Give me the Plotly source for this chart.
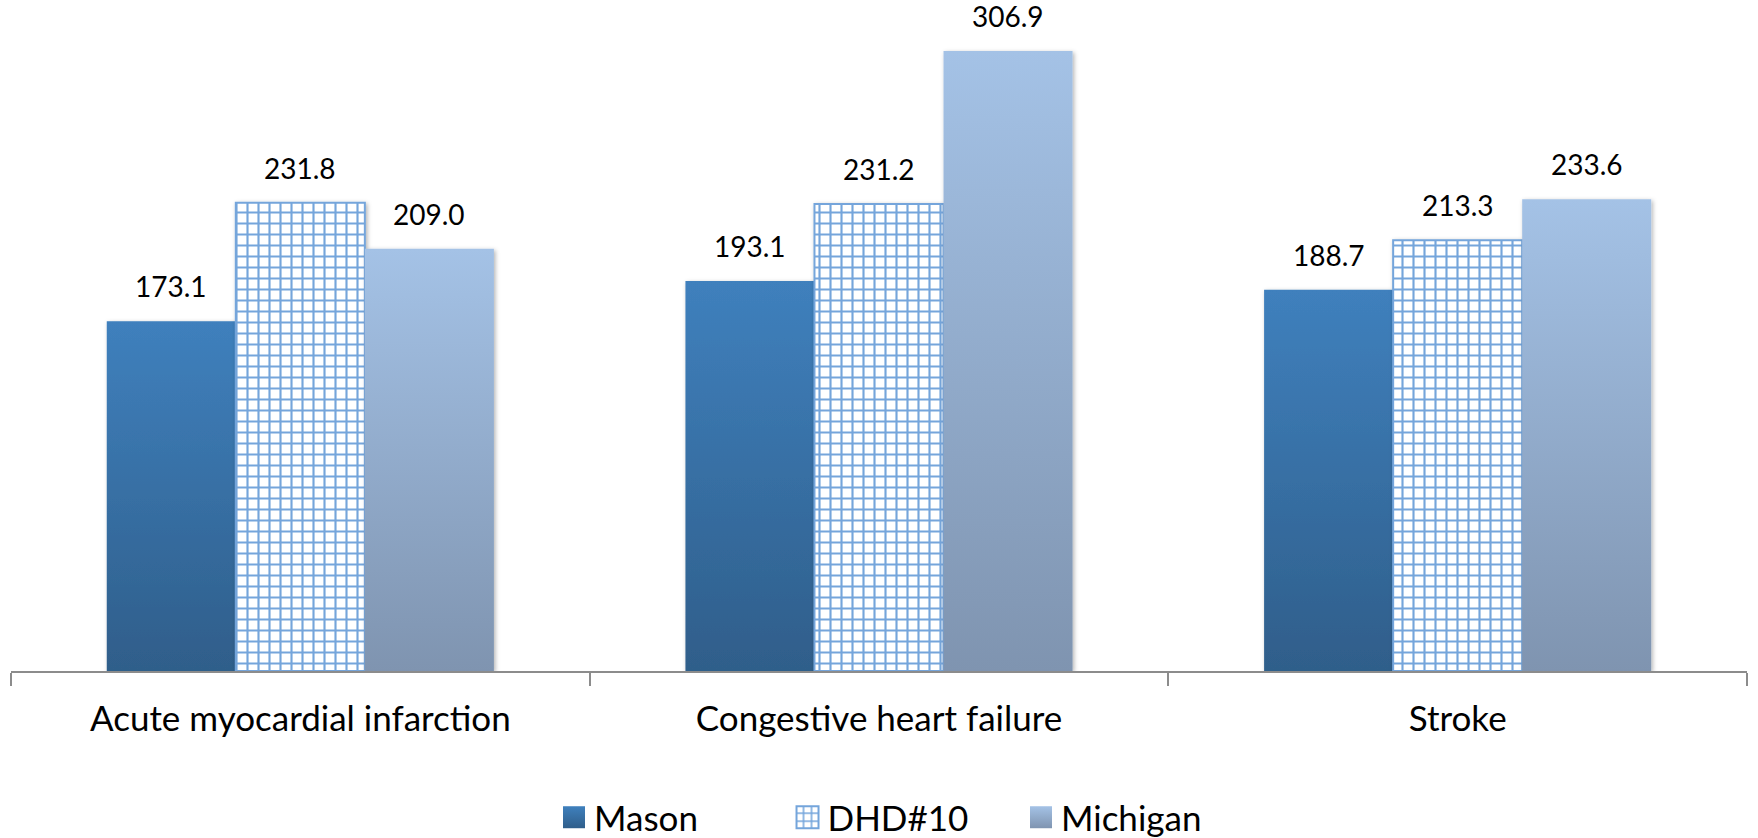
import plotly.graph_objects as go

categories = ["Acute myocardial infarction", "Congestive heart failure", "Stroke"]
series_names = ["Mason", "DHD#10", "Michigan"]
mason = [173.1, 193.1, 188.7]
dhd10 = [231.8, 231.2, 213.3]
michigan = [209.0, 306.9, 233.6]

FONT = "Lato"
BARGAP = 0.331
AXIS_COLOR = "#8c8c8c"

fig = go.Figure()
fig.add_trace(go.Bar(name=series_names[0], x=categories, y=mason,
                     marker=dict(color="#3a77b1", line=dict(width=0))))
fig.add_trace(go.Bar(name=series_names[1], x=categories, y=dhd10,
                     marker=dict(color="white", line=dict(color="#74a5db", width=2),
                                 pattern=dict(shape="+", fgcolor="#74a5db", bgcolor="white",
                                              size=11, solidity=0.35, fillmode="replace"))))
fig.add_trace(go.Bar(name=series_names[2], x=categories, y=michigan,
                     marker=dict(color="#93acc9", line=dict(width=0))))

# data labels above each bar
bw = (1 - BARGAP) / 3
annotations = []
for j, vals in enumerate([mason, dhd10, michigan]):
    for i, v in enumerate(vals):
        annotations.append(dict(x=i + (j - 1) * bw, y=v, xref="x", yref="y",
                                text=f"{v:.1f}", showarrow=False, yanchor="bottom",
                                yshift=16, font=dict(family=FONT, size=28, color="black")))

fig.update_layout(
    width=1758, height=838,
    margin=dict(l=11, r=11, t=20, b=167, autoexpand=False),
    paper_bgcolor="white", plot_bgcolor="white",
    barmode="group", bargap=BARGAP, bargroupgap=0,
    font=dict(family=FONT, size=35, color="black"),
    annotations=annotations,
    showlegend=True,
    legend=dict(orientation="h", x=0.3128, xanchor="left", y=-0.225, yanchor="middle",
                font=dict(family=FONT, size=35, color="black"), itemwidth=30,
                entrywidth=188.5, entrywidthmode="pixels", borderwidth=0),
    xaxis=dict(showline=True, linecolor=AXIS_COLOR, linewidth=1.5, ticks="outside",
               tickson="boundaries", ticklen=13, tickcolor=AXIS_COLOR, tickwidth=1.5,
               showgrid=False, tickfont=dict(family=FONT, size=35, color="black"),
               ticklabelstandoff=16, automargin=False),
    yaxis=dict(visible=False, range=[0, 322.3], showgrid=False, zeroline=False,
               automargin=False),
)

post = r"""
var gd = document.getElementById('{plot_id}');
document.body.style.margin = '0';
var NS = 'http://www.w3.org/2000/svg';
var svg = gd.querySelector('svg.main-svg');
var defs = svg.querySelector('defs');
function grad(id, top, bot) {
  var g = document.createElementNS(NS, 'linearGradient');
  g.setAttribute('id', id);
  g.setAttribute('x1', '0'); g.setAttribute('y1', '0');
  g.setAttribute('x2', '0'); g.setAttribute('y2', '1');
  [[0, top], [1, bot]].forEach(function (s) {
    var st = document.createElementNS(NS, 'stop');
    st.setAttribute('offset', s[0]); st.setAttribute('stop-color', s[1]);
    g.appendChild(st);
  });
  defs.appendChild(g);
}
grad('gMason', '#3f80bd', '#2f5e8a');
grad('gMich', '#a4c2e6', '#7f94b0');
var f = document.createElementNS(NS, 'filter');
f.setAttribute('id', 'shd');
f.setAttribute('x', '-20%'); f.setAttribute('y', '-20%');
f.setAttribute('width', '140%'); f.setAttribute('height', '140%');
var ds = document.createElementNS(NS, 'feDropShadow');
ds.setAttribute('dx', '1.5'); ds.setAttribute('dy', '1.5');
ds.setAttribute('stdDeviation', '2'); ds.setAttribute('flood-opacity', '0.3');
f.appendChild(ds); defs.appendChild(f);
var fills = ['url(#gMason)', null, 'url(#gMich)'];
var traces = gd.querySelectorAll('.barlayer .trace');
traces.forEach(function (t, i) {
  t.querySelectorAll('path').forEach(function (p) {
    if (fills[i]) { p.style.fill = fills[i]; }
    p.setAttribute('filter', 'url(#shd)');
  });
});
var leg = gd.querySelectorAll('.legend .traces');
leg.forEach(function (t, i) {
  t.querySelectorAll('.legendpoints path').forEach(function (p) {
    if (fills[i]) { p.style.fill = fills[i]; }
    p.setAttribute('d', 'M11,11H-11V-11H11Z');
  });
});
"""

fig.write_html("out.html", config={"responsive": False, "displayModeBar": False}, post_script=post)
